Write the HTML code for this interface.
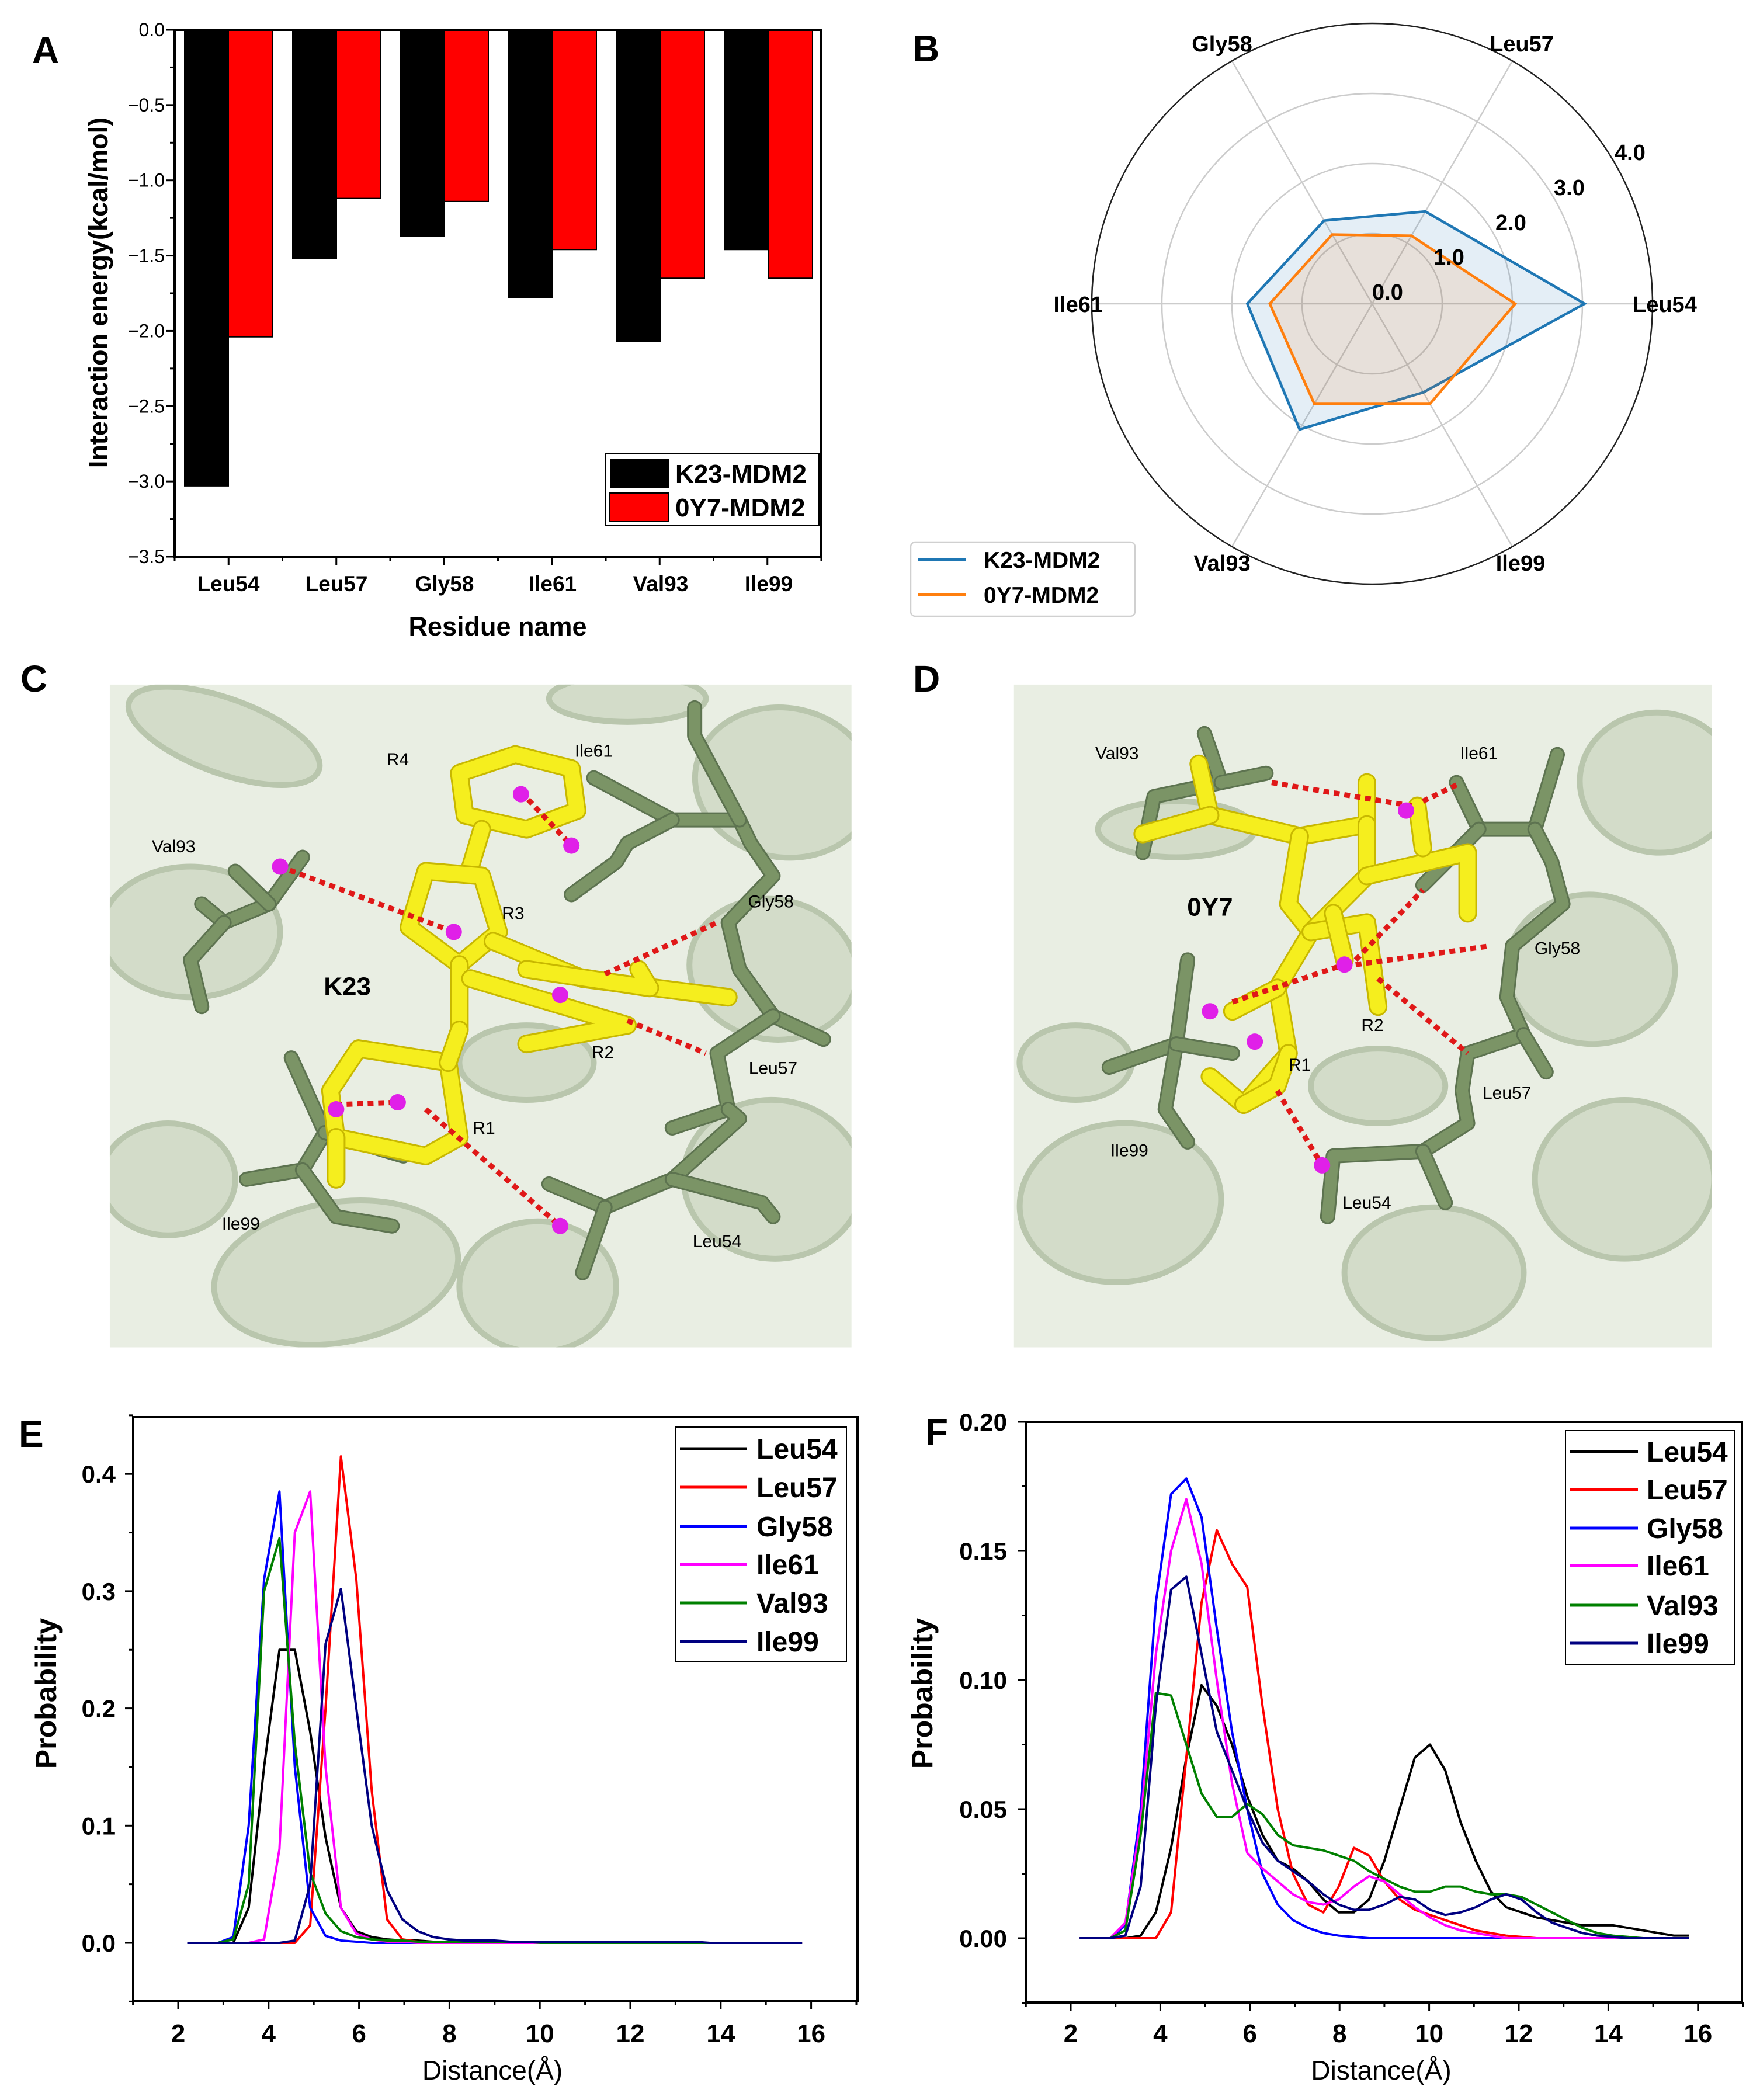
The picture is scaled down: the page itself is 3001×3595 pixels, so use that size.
<!DOCTYPE html>
<html><head><meta charset="utf-8"><style>
html,body{margin:0;padding:0;background:#fff;}
svg{display:block;}
text{font-family:"Liberation Sans",sans-serif;}
</style></head><body>
<svg id="fig" width="3001" height="3595" viewBox="0 0 3001 3595" xmlns="http://www.w3.org/2000/svg">
<rect x="0" y="0" width="3001" height="3595" fill="#fff"/>
<g id="pA"></g>
<g id="pB"></g>
<g id="pC"></g>
<g id="pD"></g>
<g id="pE"></g>
<g id="pF"></g>
</svg>
<script>
// ---------- data ----------
const residues = ["Leu54","Leu57","Gly58","Ile61","Val93","Ile99"];
const energyK23 = [-3.03,-1.52,-1.37,-1.78,-2.07,-1.46];
const energy0Y7 = [-2.04,-1.12,-1.14,-1.46,-1.65,-1.65];
const energyTicks = [0,-0.5,-1,-1.5,-2,-2.5,-3,-3.5];
const radarK23 = [3.03,1.52,1.37,1.78,2.07,1.46];
const radar0Y7 = [2.04,1.12,1.14,1.46,1.65,1.65];
const radarTicks = [0,1,2,3,4];
const distX = [2.2,2.54,2.88,3.22,3.56,3.9,4.24,4.58,4.92,5.26,5.6,5.94,6.28,6.62,6.96,7.3,7.64,7.98,8.32,8.66,9.0,9.34,9.68,10.02,10.36,10.7,11.04,11.38,11.72,12.06,12.4,12.74,13.08,13.42,13.76,14.1,14.44,14.78,15.12,15.46,15.8];
const eLeu54 = [0,0,0,0,0.03,0.15,0.25,0.25,0.18,0.09, 0.03,0.01,0.005,0.003,0.002,0.002,0.001,0.001,0.001,0.001, 0.001,0.001,0.001,0.001,0.001,0.001,0.001,0.001,0,0, 0,0,0,0,0,0,0,0,0,0, 0];
const eLeu57 = [0,0,0,0,0,0,0,0,0.015,0.2, 0.415,0.31,0.13,0.02,0.003,0.001,0,0,0,0, 0,0,0,0,0,0,0,0,0,0, 0,0,0,0,0,0,0,0,0,0, 0];
const eGly58 = [0,0,0,0.005,0.1,0.31,0.385,0.15,0.03,0.006, 0.002,0.001,0,0,0,0,0,0,0,0, 0,0,0,0,0,0,0,0,0,0, 0,0,0,0,0,0,0,0,0,0, 0];
const eIle61 = [0,0,0,0,0,0.003,0.08,0.35,0.385,0.15, 0.03,0.008,0.003,0.001,0.001,0,0,0,0,0, 0,0,0,0,0,0,0,0,0,0, 0,0,0,0,0,0,0,0,0,0, 0];
const eVal93 = [0,0,0,0.003,0.05,0.3,0.345,0.17,0.06,0.025, 0.01,0.005,0.003,0.002,0.002,0.001,0.001,0.001,0.001,0.001, 0.001,0.001,0.001,0,0,0,0,0,0,0, 0,0,0,0,0,0,0,0,0,0, 0];
const eIle99 = [0,0,0,0,0,0,0,0.002,0.05,0.255, 0.302,0.2,0.1,0.045,0.02,0.01,0.005,0.003,0.002,0.002, 0.002,0.001,0.001,0.001,0.001,0.001,0.001,0.001,0.001,0.001, 0.001,0.001,0.001,0.001,0,0,0,0,0,0, 0];
const fLeu54 = [0,0,0,0,0.001,0.01,0.035,0.07,0.098,0.09, 0.075,0.055,0.04,0.03,0.027,0.022,0.015,0.01,0.01,0.015, 0.03,0.05,0.07,0.075,0.065,0.045,0.03,0.018,0.012,0.01, 0.008,0.007,0.006,0.005,0.005,0.005,0.004,0.003,0.002,0.001, 0.001];
const fLeu57 = [0,0,0,0,0,0,0.01,0.07,0.13,0.158, 0.145,0.136,0.09,0.05,0.025,0.013,0.01,0.02,0.035,0.032, 0.022,0.015,0.011,0.009,0.007,0.005,0.003,0.002,0.001,0.0005, 0,0,0,0,0,0,0,0,0,0, 0];
const fGly58 = [0,0,0,0.005,0.05,0.13,0.172,0.178,0.163,0.12, 0.08,0.05,0.025,0.013,0.007,0.004,0.002,0.001,0.0005,0, 0,0,0,0,0,0,0,0,0,0, 0,0,0,0,0,0,0,0,0,0, 0];
const fIle61 = [0,0,0,0.006,0.045,0.11,0.15,0.17,0.145,0.1, 0.06,0.033,0.027,0.022,0.017,0.014,0.013,0.015,0.02,0.024, 0.022,0.017,0.012,0.008,0.005,0.003,0.002,0.001,0,0, 0,0,0,0,0,0,0,0,0,0, 0];
const fVal93 = [0,0,0,0.003,0.04,0.095,0.094,0.075,0.056,0.047, 0.047,0.052,0.048,0.04,0.036,0.035,0.034,0.032,0.03,0.026, 0.023,0.02,0.018,0.018,0.02,0.02,0.018,0.017,0.017,0.016, 0.013,0.01,0.007,0.004,0.002,0.001,0.0005,0,0,0, 0];
const fIle99 = [0,0,0,0.001,0.02,0.09,0.135,0.14,0.11,0.08, 0.065,0.05,0.037,0.03,0.026,0.022,0.017,0.013,0.011,0.011, 0.013,0.016,0.015,0.011,0.009,0.01,0.012,0.015,0.017,0.015, 0.01,0.006,0.004,0.002,0.001,0.0005,0,0,0,0, 0];
const seriesNames = ["Leu54","Leu57","Gly58","Ile61","Val93","Ile99"];
const eTicksY = [0,0.1,0.2,0.3,0.4];
const fTicksY = [0,0.05,0.1,0.15,0.2];
const distTicks = [2,4,6,8,10,12,14,16];

const NS="http://www.w3.org/2000/svg";
function mk(tag, attrs, parent){const e=document.createElementNS(NS,tag);for(const k in attrs)e.setAttribute(k,attrs[k]);parent.appendChild(e);return e;}
function tx(str, attrs, parent){const e=mk("text",attrs,parent);e.textContent=str;return e;}
const colors=["#000000","#ff0000","#0000ff","#ff00ff","#008000","#000080"];

// ---------- Panel A ----------
(function(){
const g=document.getElementById("pA");
const L=299,R=1406,T=51,B=953;
const yA=v=>T+(-v)/3.5*(B-T);
const step=185, x0=391;
const xA=i=>x0+i*step;
const bw=75;
let t=tx("A",{x:55,y:108,"font-size":64,"font-weight":"bold"},g);


residues.forEach((r,i)=>{
  let b=mk("rect",{x:xA(i)-bw,y:yA(0),width:bw,height:yA(energyK23[i])-yA(0),fill:"#000",stroke:"#000","stroke-width":2},g);
  
  
  let c=mk("rect",{x:xA(i),y:yA(0),width:bw,height:yA(energy0Y7[i])-yA(0),fill:"#ff0000",stroke:"#000","stroke-width":2},g);
  
  
  let l=tx(r,{x:xA(i),y:1012,"font-size":37,"font-weight":"bold","text-anchor":"middle"},g);
  
  
});
let ax=mk("rect",{x:L,y:T,width:R-L,height:B-T,fill:"none",stroke:"#000","stroke-width":4},g);


energyTicks.forEach(v=>{
  let tk=mk("line",{x1:L-14,x2:L,y1:yA(v),y2:yA(v),stroke:"#000","stroke-width":3},g);
  
  
  let lb=tx((v===0?"0.0":"\u2212"+(-v).toFixed(1)),{x:282,y:yA(v)+11,"font-size":32,"text-anchor":"end","font-family":"Liberation Serif, serif"},g);
  
  
});
for(let k=0;k<7;k++){
  let v=-(k*0.5+0.25);
  let tk=mk("line",{x1:L-8,x2:L,y1:yA(v),y2:yA(v),stroke:"#000","stroke-width":3},g);
  
  
}
for(let k=0;k<=12;k++){
  let x=L+ (k/12)*(R-L);
  let tk=mk("line",{x1:x,x2:x,y1:B,y2:B+(k%2?14:8),stroke:"#000","stroke-width":3},g);
  
  
}
let yt=tx("Interaction energy(kcal/mol)",{x:0,y:0,"font-size":45,"font-weight":"bold","text-anchor":"middle",transform:"translate(184,501) rotate(-90)"},g);


let xt=tx("Residue name",{x:852,y:1088,"font-size":45,"font-weight":"bold","text-anchor":"middle"},g);


let lg=mk("g",{},g);


let lb=mk("rect",{x:1037,y:777,width:365,height:123,fill:"#fff",stroke:"#000","stroke-width":2},lg);


let s1=mk("rect",{x:1044,y:786,width:101,height:49,fill:"#000"},lg);


let s2=mk("rect",{x:1044,y:844,width:101,height:49,fill:"#ff0000",stroke:"#000","stroke-width":2},lg);


let l1=tx("K23-MDM2",{x:1156,y:826,"font-size":44,"font-weight":"bold"},lg);


let l2=tx("0Y7-MDM2",{x:1156,y:884,"font-size":44,"font-weight":"bold"},lg);


})();

// ---------- Panel B ----------
(function(){
const g=document.getElementById("pB");
const cx=2349, cy=520, unit=120;
const ang=i=>i*Math.PI/3;
const pt=(v,i)=>[cx+v*unit*Math.cos(ang(i)), cy-v*unit*Math.sin(ang(i))];
let t=tx("B",{x:1562,y:105,"font-size":64,"font-weight":"bold"},g);


[1,2,3].forEach(v=>{
  let c=mk("circle",{cx:cx,cy:cy,r:v*unit,fill:"none",stroke:"#cccccc","stroke-width":2.5},g);
  
  
});
residues.forEach((r,i)=>{
  const p=pt(4,i);
  let s=mk("line",{x1:cx,y1:cy,x2:p[0],y2:p[1],stroke:"#cccccc","stroke-width":2.5},g);
  
  
});
let oc=mk("circle",{cx:cx,cy:cy,r:4*unit,fill:"none",stroke:"#222","stroke-width":2.5},g);


function poly(vals,col,name){
  const pts=vals.map((v,i)=>pt(v,i).join(",")).join(" ");
  let f=mk("polygon",{points:pts,fill:col,"fill-opacity":0.12,stroke:"none"},g);
  
  
  let l=mk("polygon",{points:pts,fill:"none",stroke:col,"stroke-width":4.5},g);
  
  
}
poly(radarK23,"#1f77b4","series-k23");
poly(radar0Y7,"#ff7f0e","series-0y7");
const labPos=[[2795,520,"start"],[2605,74,"middle"],[2092,74,"middle"],[1888,520,"end"],[2092,963,"middle"],[2603,963,"middle"]];
residues.forEach((r,i)=>{
  let l=tx(r,{x:labPos[i][0],y:labPos[i][1]+14,"font-size":38,"font-weight":"bold","text-anchor":labPos[i][2],"font-family":"DejaVu Sans, sans-serif"},g);
  
  
});
const rlPos=[[2349,513],[2454,453],[2560,394],[2660,334],[2764,274]];
radarTicks.forEach((v,i)=>{
  let l=tx(v.toFixed(1),{x:rlPos[i][0],y:rlPos[i][1],"font-size":38,"font-weight":"bold","font-family":"DejaVu Sans, sans-serif"},g);
  
  
});
let lg=mk("g",{},g);


let bx=mk("rect",{x:1559,y:928,width:384,height:127,rx:8,fill:"#fff",stroke:"#d0d0d0","stroke-width":2.5},lg);


[["K23-MDM2","#1f77b4",958,"k23"],["0Y7-MDM2","#ff7f0e",1018,"0y7"]].forEach(e=>{
  let ln=mk("line",{x1:1572,x2:1653,y1:e[2],y2:e[2],stroke:e[1],"stroke-width":4.5},lg);
  
  
  let lt=tx(e[0],{x:1684,y:e[2]+14,"font-size":39,"font-weight":"bold","font-family":"DejaVu Sans, sans-serif"},lg);
  
  
});
})();

// ---------- Panels C / D (molecular renderings) ----------
function structure(gid, letter, lx, box, helices, greens, yellows, dashes, dots, labels, ligand){
  const g=document.getElementById(gid);
  const sx=1.918, sy=0.799, oy=1100;
  const P=(x,y)=>[x*sx, oy+y*sy];
  let t=tx(letter,{x:lx,y:1184,"font-size":64,"font-weight":"bold"},g);
  
  
  const b0=P(box[0],box[1]), b1=P(box[2],box[3]);
  let bg=mk("rect",{x:b0[0],y:b0[1],width:b1[0]-b0[0],height:b1[1]-b0[1],fill:"#e9eee3"},g);
  
  
  const clipId=gid+"clip";
  const cp=mk("clipPath",{id:clipId},g);
  mk("rect",{x:b0[0],y:b0[1],width:b1[0]-b0[0],height:b1[1]-b0[1]},cp);
  const inner=mk("g",{"clip-path":"url(#"+clipId+")"},g);
  
  
  helices.forEach(h=>{
    const c=P(h[0],h[1]);
    let e=mk("ellipse",{cx:c[0],cy:c[1],rx:h[2]*sx,ry:h[3]*sy,fill:"#d3dcc9",stroke:"#b9c6ad","stroke-width":10,transform:"rotate("+h[4]+" "+c[0]+" "+c[1]+")"},inner);
    
    
  });
  function stick(list,col,w,edge,name){
    list.forEach(s=>{
      const pts=[];for(let k=0;k<s.length;k+=2){pts.push(P(s[k],s[k+1]).join(","));}
      let o=mk("polyline",{points:pts.join(" "),fill:"none",stroke:edge,"stroke-width":w+6,"stroke-linejoin":"round","stroke-linecap":"round"},inner);
      
      
      let p=mk("polyline",{points:pts.join(" "),fill:"none",stroke:col,"stroke-width":w,"stroke-linejoin":"round","stroke-linecap":"round"},inner);
      
      
    });
  }
  stick(greens,"#7b9466",20,"#5d7350","residue-stick");
  stick(yellows,"#f5ee1e",26,"#c8b800","ligand-stick");
  dashes.forEach(d=>{
    const a=P(d[0],d[1]), b=P(d[2],d[3]);
    let l=mk("line",{x1:a[0],y1:a[1],x2:b[0],y2:b[1],stroke:"#e01818","stroke-width":9,"stroke-dasharray":"10 8"},inner);
    
    
  });
  dots.forEach(d=>{
    const a=P(d[0],d[1]);
    let c=mk("circle",{cx:a[0],cy:a[1],r:14,fill:"#e020e8"},inner);
    
    
  });
  labels.forEach(l=>{
    const a=P(l[1],l[2]);
    let e=tx(l[0],{x:a[0],y:a[1]+10,"font-size":30,"text-anchor":"middle"},g);
    
    
  });
  const lp=P(ligand[1],ligand[2]);
  let lt=tx(ligand[0],{x:lp[0],y:lp[1]+16,"font-size":44,"font-weight":"bold","text-anchor":"middle","font-family":"Liberation Serif, serif"},g);
  
  
}
structure("pC","C",35,[98,90,760,1510],
 [[700,300,80,160,10],[690,700,75,150,10],[690,1150,80,170,5],[300,1350,110,150,-10],[480,1380,70,140,0],[200,200,90,80,20],[170,620,80,140,0],[470,900,60,80,0],[150,1150,60,120,0],[560,120,70,50,0]],
 [[530,290,600,380,660,380,670,430,690,500,650,600,660,700,690,800,735,850],[600,380,560,430,550,470,510,540],[660,380,620,200,620,140],[690,800,640,880,650,1000,600,1040],[650,1000,660,1020,600,1150,540,1210,490,1160],[540,1210,520,1350],[600,1150,680,1200,690,1230],[270,460,240,560,200,600,180,560],[240,560,210,490],[200,600,170,680,180,780],[260,890,290,1050,270,1130,220,1150],[270,1130,300,1230,350,1250],[290,1050,360,1100]],
 [[460,240,510,270,515,360,470,400,415,370,410,280,460,240],[430,400,420,480],[380,490,430,500,445,620,410,690,365,610,380,490],[410,690,410,830],[440,640,520,720,650,760],[420,720,560,820,470,860],[470,700,580,740,570,700],[320,870,400,900,410,1060,380,1100,300,1060,295,960,320,870],[410,830,400,900],[300,1060,300,1150]],
 [[250,480,405,620],[465,320,510,435],[540,710,640,600],[560,810,630,880],[380,1000,500,1250],[300,990,355,985]],
 [[250,480],[405,620],[465,325],[510,435],[500,755],[355,985],[300,1000],[500,1250]],
 [["Ile61",530,232],["R4",355,250],["Val93",155,437],["R3",458,580],["Gly58",688,555],["R2",538,878],["Leu57",690,912],["R1",432,1040],["Ile99",215,1245],["Leu54",640,1283]],
 ["K23",310,735]);
structure("pD","D",1563,[905,90,1528,1510],
 [[1480,300,70,150,5],[1420,700,75,160,5],[1450,1150,80,170,0],[1000,1200,90,170,-5],[1280,1350,80,140,0],[1050,400,70,60,0],[1230,950,60,80,0],[960,900,50,80,0]],
 [[1075,195,1090,300,1030,330,1020,450],[1090,300,1130,280],[1300,300,1320,400,1370,400,1390,240],[1370,400,1385,470,1395,560,1350,650,1345,760,1360,840,1310,880,1305,960,1310,1030,1270,1090,1190,1100,1185,1230],[1270,1090,1290,1200],[1360,840,1380,920],[1320,400,1270,520],[1060,680,1050,860,990,910],[1050,860,1040,1000,1060,1070],[1050,860,1100,880]],
 [[1070,260,1080,370,1160,415,1220,390,1220,300],[1080,370,1020,410],[1160,415,1150,560,1170,620,1140,740,1150,880,1110,990,1080,930],[1220,390,1220,500,1170,620],[1220,500,1310,450,1310,580],[1270,440,1265,350],[1170,620,1220,600,1230,780],[1190,580,1200,680],[1150,880,1140,950,1110,990],[1100,790,1140,740]],
 [[1135,300,1260,350],[1270,340,1300,305],[1210,690,1330,650],[1210,680,1270,530],[1100,770,1200,690],[1230,720,1310,880],[1140,960,1180,1120]],
 [[1255,360],[1200,690],[1080,790],[1120,855],[1180,1120]],
 [["Val93",997,237],["Ile61",1320,237],["Gly58",1390,655],["R2",1225,820],["R1",1160,905],["Leu57",1345,965],["Ile99",1008,1088],["Leu54",1220,1200]],
 ["0Y7",1080,565]);

// ---------- Panels E / F ----------
function lineChart(gid, letter, lpos, frame, xmap, ymap, ticksY, yDec, minorY, yMin, yMax, series, legend, yTitleX, yLabX){
  const g=document.getElementById(gid);
  const [L,R,T,B]=frame;
  let t=tx(letter,{x:lpos[0],y:lpos[1],"font-size":64,"font-weight":"bold"},g);
  
  
  series.forEach((s,k)=>{
    const pts=distX.map((x,i)=>xmap(x).toFixed(1)+","+ymap(s[i]).toFixed(1)).join(" ");
    let p=mk("polyline",{points:pts,fill:"none",stroke:colors[k],"stroke-width":4,"stroke-linejoin":"round"},g);
    
    
  });
  let ax=mk("rect",{x:L,y:T,width:R-L,height:B-T,fill:"none",stroke:"#000","stroke-width":4},g);
  
  
  for(let v=1;v<=17;v++){
    const x=xmap(v);
    let tk=mk("line",{x1:x,x2:x,y1:B,y2:B+(v%2===0?14:8),stroke:"#000","stroke-width":3},g);
    
    
  }
  distTicks.forEach(v=>{
    let l=tx(String(v),{x:xmap(v),y:3496,"font-size":44,"font-weight":"bold","text-anchor":"middle"},g);
    
    
  });
  for(let v=yMin;v<=yMax+1e-9;v+=minorY){
    const y=ymap(v);
    const major=ticksY.some(m=>Math.abs(m-v)<1e-6);
    let tk=mk("line",{x1:L-(major?14:8),x2:L,y1:y,y2:y,stroke:"#000","stroke-width":3},g);
    
    
  }
  ticksY.forEach(v=>{
    let l=tx(v.toFixed(yDec),{x:yLabX,y:ymap(v)+15,"font-size":42,"font-weight":"bold","text-anchor":"end"},g);
    
    
  });
  let yt=tx("Probability",{x:0,y:0,"font-size":50,"font-weight":"bold","text-anchor":"middle",transform:"translate("+yTitleX+",2899) rotate(-90)"},g);
  
  
  let xt=tx("Distance(\u00C5)",{x:(L+R)/2-5,y:3560,"font-size":46,"text-anchor":"middle"},g);
  
  
  const [bx,by,bw,bh,lx1,lx2,tx0,rows]=legend;
  let lg=mk("g",{},g);
  
  
  let box=mk("rect",{x:bx,y:by,width:bw,height:bh,fill:"#fff",stroke:"#000","stroke-width":2},lg);
  
  
  seriesNames.forEach((n,k)=>{
    let ln=mk("line",{x1:lx1,x2:lx2,y1:rows[k],y2:rows[k],stroke:colors[k],"stroke-width":5},lg);
    
    
    let lt=tx(n,{x:tx0,y:rows[k]+17,"font-size":48,"font-weight":"bold"},lg);
    
    
  });
}
lineChart("pE","E",[32,2477],[228,1468,2426,3425],
  v=>305+(v-2)*77.4, p=>3326-p*2007,
  eTicksY,1,0.05,-0.05,0.45,
  [eLeu54,eLeu57,eGly58,eIle61,eVal93,eIle99],
  [1156,2443,293,402,1164,1279,1295,[2480,2546,2613,2678,2744,2810]],
  96,198);
lineChart("pF","F",[1584,2473],[1757,2982,2434,3428],
  v=>1833+(v-2)*76.7, p=>3318-p*4420,
  fTicksY,2,0.025,-0.025,0.2,
  [fLeu54,fLeu57,fGly58,fIle61,fVal93,fIle99],
  [2680,2449,290,400,2687,2804,2819,[2485,2550,2616,2680,2748,2813]],
  1596,1724);
</script>
</body></html>
